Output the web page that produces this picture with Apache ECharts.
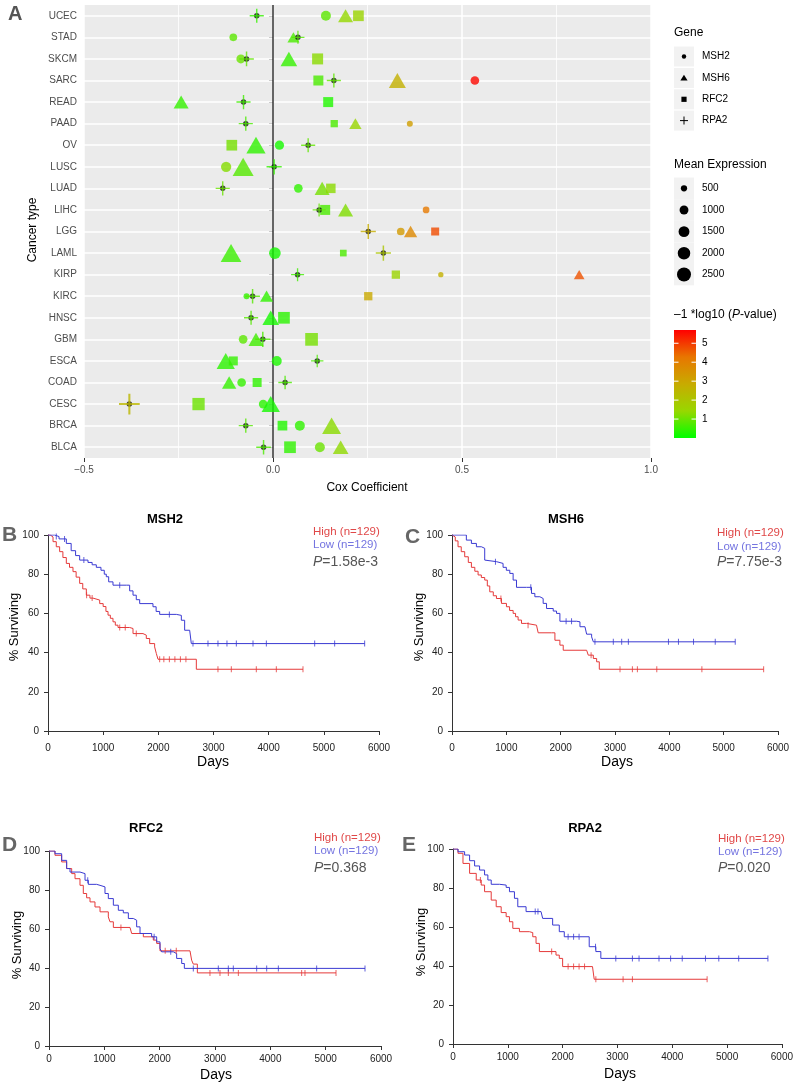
<!DOCTYPE html>
<html><head><meta charset="utf-8">
<script src="https://cdn.jsdelivr.net/npm/echarts@6.0.0/dist/echarts.min.js"></script>
<style>html,body{margin:0;padding:0;background:#fff;}#main{width:796px;height:1084px;}</style>
</head><body><div id="main"></div>
<script>
// ---------------- Panel A data ----------------
const cancers = ['UCEC','STAD','SKCM','SARC','READ','PAAD','OV','LUSC','LUAD','LIHC','LGG','LAML','KIRP','KIRC','HNSC','GBM','ESCA','COAD','CESC','BRCA','BLCA'];
const msh2Coef = [0.140,-0.105,-0.085,0.534,null,0.362,0.017,-0.124,0.067,0.405,0.338,0.005,0.444,-0.070,null,-0.079,0.010,-0.083,-0.026,0.071,0.124];
const msh2Expr = [1275,760,1030,960,null,460,1100,1350,960,570,760,1750,360,460,null,960,1275,960,960,1275,1275];
const msh2LogP = [0.85,0.85,1.0,5.6,null,3.2,0.2,1.25,0.45,4.2,3.3,0.2,2.7,0.45,null,0.85,0.25,0.5,0.4,0.45,1.0];
const msh6Coef = [0.192,0.054,0.042,0.329,-0.243,0.218,-0.045,-0.079,0.130,0.192,0.364,-0.111,0.810,-0.017,-0.006,-0.045,-0.125,-0.116,-0.006,0.155,0.179];
const msh6Expr = [1365,874,1692,1753,1365,918,2260,2675,1365,1365,1073,2600,695,1025,1692,1365,2032,1240,2032,2190,1495];
const msh6LogP = [1.4,0.7,0.5,2.7,0.5,1.45,0.45,0.8,1.1,1.2,3.8,0.55,4.7,0.45,0.2,0.6,0.4,0.5,0.2,1.3,1.35];
const rfc2Coef = [0.226,null,0.118,0.120,0.146,0.162,-0.109,null,0.153,0.138,0.429,0.186,0.325,0.252,0.029,0.102,-0.105,-0.042,-0.197,0.025,0.045];
const rfc2Expr = [1618,null,1710,1413,1413,753,1618,null,1275,1413,904,634,974,974,1935,2280,1145,1145,2138,1330,1935];
const rfc2LogP = [1.5,null,1.3,0.7,0.3,0.7,1.1,null,1.3,0.7,4.8,0.7,1.5,2.9,0.4,1.1,0.5,0.45,1.0,0.3,0.45];
const rpa2Coef = [-0.043,0.066,-0.070,0.161,-0.078,-0.072,0.093,0.003,-0.133,0.122,0.252,0.292,0.065,-0.054,-0.058,-0.027,0.117,0.032,-0.380,-0.072,-0.025];
const rpa2Expr = [1300,1100,1400,1300,1300,1300,1300,1500,1300,1100,1500,1500,1100,1400,1300,1500,1000,1200,2800,1300,1400];
const rpa2LogP = [0.5,0.8,0.9,0.9,0.6,0.7,0.9,0.5,1.0,0.9,2.8,2.0,0.6,0.8,0.8,0.7,0.7,0.7,2.5,0.8,0.7];
const geneNames = ['MSH2','MSH6','RFC2','RPA2'];
const sizeBreaks = [500,1000,1500,2000,2500];
const colorBreaks = [1,2,3,4,5];
const logPMin = 0, logPMax = 5.7;

// ---------------- Kaplan-Meier data (days, % surviving) ----------------
const msh2High = [[0,100],[40,99],[91,96.6],[150,94],[211,91.5],[270,88.5],[332,85.5],[390,83.5],[453,81.3],[510,78.5],[574,75.3],[630,72.5],[695,69.3],[760,67.8],[816,66.8],[937,65],[1000,63.5],[1050,61],[1088,59.1],[1130,57.5],[1178,55.7],[1220,54],[1269,52.8],[1480,52.3],[1541,49.7],[1722,48.9],[1782,47.2],[1843,44.6],[1933,42.9],[1964,39.5],[1994,36.6],[2689,31.5],[4622,31.5]];
const msh2Low = [[0,100],[120,99.2],[200,98],[332,95.7],[420,92],[500,89.5],[574,87.2],[725,86],[800,84.8],[876,83.5],[960,82],[1020,80],[1057,78.7],[1100,76.1],[1178,74.4],[1420,74.4],[1480,71.5],[1541,69.3],[1600,67],[1662,65],[1903,63.4],[1960,61],[2024,59.5],[2326,59],[2417,56.5],[2477,51.4],[2568,50.6],[2598,44.6],[5740,44.6]];
const msh6High = [[0,100],[18,99],[60,97],[111,94],[170,91.5],[234,88.9],[300,86],[357,83.5],[420,81.5],[480,79.6],[540,78.3],[602,77],[650,74],[695,71],[760,69],[818,67.6],[910,65.1],[1002,63.4],[1060,61.5],[1125,60],[1170,58.3],[1217,56.6],[1279,54.9],[1371,54],[1555,53.2],[1586,50.1],[1832,50.1],[1894,46.3],[1986,43.8],[2047,41.2],[2478,41.2],[2508,38.7],[2601,37],[2662,35.3],[2711,31.5],[5736,31.5]];
const msh6Low = [[0,100],[203,100],[264,97.4],[357,95.7],[449,94],[541,93.2],[602,87.2],[633,86.4],[818,85.5],[940,83.5],[1000,82],[1064,80.4],[1125,77],[1187,73.3],[1371,73.3],[1463,70.2],[1525,68.5],[1617,67.6],[1678,65.1],[1740,62.5],[1863,61.2],[1924,60],[1986,56],[2293,55.7],[2355,53.2],[2447,52.3],[2478,49.4],[2570,48],[2601,45.5],[5213,45.5]];
const rfc2High = [[0,100],[108,97.8],[229,94.4],[319,91],[410,88.4],[470,85.8],[560,82.4],[620,78.2],[680,76],[741,73.9],[831,71.3],[922,68.8],[1072,66.2],[1102,63.7],[1163,60.8],[1464,60.8],[1494,57.7],[1705,56],[1885,54.3],[1946,52.6],[2006,48.8],[2548,48.8],[2578,44],[2608,42],[2681,37.5],[5187,37.5]];
const rfc2Low = [[0,100],[108,98.6],[229,95.2],[319,91],[380,89.2],[560,88.4],[651,85],[711,82.9],[861,82.4],[922,81.6],[1012,78.2],[1072,75.6],[1163,72.2],[1253,69.6],[1343,68.3],[1434,65.4],[1524,64.5],[1584,61.1],[1645,57.7],[1855,56],[1946,53.4],[2006,50],[2036,48.3],[2247,47.4],[2307,44.9],[2398,42.3],[2446,39.8],[5711,39.8]];
const rpa2High = [[0,100],[91,97.8],[182,92.6],[303,87.5],[424,84.1],[515,81.5],[576,78.1],[697,73.8],[788,70.4],[879,67.4],[970,65.3],[1030,62.7],[1091,59.3],[1212,57.6],[1394,57.1],[1455,55],[1515,51.6],[1576,47.4],[1879,45.6],[1939,43.9],[2000,39.7],[2545,39.7],[2576,33.2],[4636,33.2]];
const rpa2Low = [[0,100],[91,98.6],[212,96.9],[303,94],[394,91.3],[485,89.2],[576,86.7],[636,84.1],[697,81.9],[848,81.5],[970,80.3],[1030,78.1],[1121,74.7],[1182,70.4],[1333,67.9],[1606,67],[1636,64.4],[1818,61],[1939,57.6],[2030,55],[2303,55],[2485,49.9],[2606,47.4],[2697,43.9],[5745,43.9]];
// censored days
const msh2HighCens = [700,800,1300,1400,1600,2024,2100,2200,2300,2400,2500,3081,3323,3776,4139,4622];
const msh2LowCens = [150,300,650,1300,2200,2628,2900,3081,3244,3414,3716,3958,4834,5196,5740];
const msh6HighCens = [900,1400,2560,3092,3320,3412,3769,4599,5736];
const msh6LowCens = [800,1450,2100,2200,2631,2969,3123,3246,3984,4168,4445,4845,5213];
const rfc2HighCens = [1300,2100,2300,2909,3090,3241,3422,4566,4626,5187];
const rfc2LowCens = [700,1900,2200,2608,3060,3241,3331,3753,3934,4145,4837,5711];
const rpa2HighCens = [500,1800,2100,2200,2300,2400,2606,3103,3273,4636];
const rpa2LowCens = [1500,1550,2100,2200,2300,2600,2970,3273,3394,3758,3970,4182,4606,4849,5212,5745];
const kmPanels = [
  {gene:'MSH2', high:msh2High, low:msh2Low, hc:msh2HighCens, lc:msh2LowCens, p:'1.58e-3'},
  {gene:'MSH6', high:msh6High, low:msh6Low, hc:msh6HighCens, lc:msh6LowCens, p:'7.75e-3'},
  {gene:'RFC2', high:rfc2High, low:rfc2Low, hc:rfc2HighCens, lc:rfc2LowCens, p:'0.368'},
  {gene:'RPA2', high:rpa2High, low:rpa2Low, hc:rpa2HighCens, lc:rpa2LowCens, p:'0.020'}
];
const groupN = 129;

// ---------------- helpers ----------------
const FONT = 'Liberation Sans, Arial, Helvetica, sans-serif';
const colorStops = ['#00FF00','#98D700','#C8AB00','#E87600','#FF0000'];
const sizeScale = e => 0.28 * Math.sqrt(e);
function pts(coef, expr, lp){
  const out = [];
  cancers.forEach((c,i)=>{ if(coef[i]!=null) out.push([coef[i], c, expr[i], lp[i]]); });
  return out;
}
function survAt(curve, t){ let s = curve[0][1]; for(const p of curve){ if(p[0] <= t) s = p[1]; else break; } return s; }

// ---------------- layout ----------------
const gridA = {left:84, top:5, width:567, height:453};
const kmGrids = [
  {left:48, top:535, width:331, height:196, xOff:6, yOff:3},
  {left:452, top:535, width:326, height:196, xOff:6, yOff:3},
  {left:49, top:851, width:332, height:195, xOff:2, yOff:3},
  {left:453, top:849, width:330, height:195, xOff:2, yOff:3}
];
const kmText = [
  {title:[165,519], leg:[313,531.7,545,561.7], letter:['B',2,535], ylab:[14,627], days:[213,762]},
  {title:[566,519], leg:[717,533,546.7,561.7], letter:['C',405,537], ylab:[419,627], days:[617,762]},
  {title:[146,828], leg:[314,837.7,851,868.3], letter:['D',2,845], ylab:[17,945], days:[216,1075]},
  {title:[585,828], leg:[718,839.3,852.3,868.3], letter:['E',402,845], ylab:[421,942], days:[620,1074]}
];

const grids = [Object.assign({show:true, backgroundColor:'#EBEBEB', borderWidth:0}, gridA)];
const xAxes = [{
  type:'value', gridIndex:0, min:-0.5, max:1.0, interval:0.5,
  axisLine:{show:false}, axisTick:{show:true, length:4, lineStyle:{color:'#333', width:1}},
  axisLabel:{color:'#4D4D4D', fontSize:10, fontFamily:FONT, margin:7,
    formatter:v => (v<0?'\u22120':'') + (v<0? Math.abs(v).toFixed(1).slice(1) : v.toFixed(1))},
  splitLine:{show:true, lineStyle:{color:'#FFFFFF', width:1.5}},
  minorTick:{show:false, splitNumber:2},
  minorSplitLine:{show:true, lineStyle:{color:'#FFFFFF', width:0.8}}
}];
const yAxes = [{
  type:'category', gridIndex:0, data:cancers, inverse:true, boundaryGap:true,
  axisLine:{show:false}, axisTick:{show:true, alignWithLabel:true, length:4, lineStyle:{color:'#333'}},
  axisLabel:{color:'#4D4D4D', fontSize:10, fontFamily:FONT, margin:7},
  splitLine:{show:false}
}];
kmGrids.forEach((gd,k)=>{
  grids.push({left:gd.left, top:gd.top, width:gd.width, height:gd.height, show:false});
  xAxes.push({type:'value', gridIndex:k+1, min:0, max:6000, interval:1000, offset:gd.xOff,
    axisLine:{show:true, lineStyle:{color:'#333', width:1}},
    axisTick:{show:true, length:4, lineStyle:{color:'#333'}},
    axisLabel:{color:'#222', fontSize:10, fontFamily:FONT, margin:6, formatter: v => String(v)},
    splitLine:{show:false}});
  yAxes.push({type:'value', gridIndex:k+1, min:0, max:100, interval:20, offset:gd.yOff,
    axisLine:{show:true, lineStyle:{color:'#333', width:1}},
    axisTick:{show:true, length:4, lineStyle:{color:'#333'}},
    axisLabel:{color:'#222', fontSize:10, fontFamily:FONT, margin:6, formatter: v => String(v)},
    splitLine:{show:false}});
});

const crossPath = 'path://M9,0h2v20h-2zM0,9h20v2h-20z';
const series = [
  {name:'MSH2', type:'scatter', xAxisIndex:0, yAxisIndex:0, symbol:'circle', z:3,
   symbolSize: v => sizeScale(v[2]), data: pts(msh2Coef, msh2Expr, msh2LogP),
   markLine:{silent:true, symbol:['none','none'], z:1, label:{show:false}, animation:false,
     data: cancers.map(c => ({yAxis:c, lineStyle:{color:'#FFFFFF', width:1.5, type:'solid'}}))
       .concat([{xAxis:0, lineStyle:{color:'#333333', width:1.5, type:'solid'}}])}},
  {name:'MSH6', type:'scatter', xAxisIndex:0, yAxisIndex:0, symbol:'triangle', z:3,
   symbolSize: v => { const w = sizeScale(v[2])*1.45; return [w, w*0.87]; }, data: pts(msh6Coef, msh6Expr, msh6LogP)},
  {name:'RFC2', type:'scatter', xAxisIndex:0, yAxisIndex:0, symbol:'rect', z:3,
   symbolSize: v => sizeScale(v[2])*0.95, data: pts(rfc2Coef, rfc2Expr, rfc2LogP)},
  {name:'RPA2dot', type:'scatter', xAxisIndex:0, yAxisIndex:0, symbol:'circle', z:3,
   symbolSize: 5.5, itemStyle:{color:'#111'}, data: pts(rpa2Coef, rpa2Expr, rpa2LogP)},
  {name:'RPA2', type:'scatter', xAxisIndex:0, yAxisIndex:0, symbol:crossPath, z:4,
   symbolSize: v => sizeScale(v[2])*1.4, data: pts(rpa2Coef, rpa2Expr, rpa2LogP)}
];
const RED = '#E53A3A', BLUE = '#3A3AD2';
kmPanels.forEach((p,k)=>{
  const xi = k+1;
  [[p.high, p.hc, RED], [p.low, p.lc, BLUE]].forEach(([curve, cens, col])=>{
    series.push({type:'line', xAxisIndex:xi, yAxisIndex:xi, data:curve, step:'end', showSymbol:false,
      symbol:'none', lineStyle:{color:col, width:1}, itemStyle:{color:col}, z:2, silent:true});
    series.push({type:'scatter', xAxisIndex:xi, yAxisIndex:xi, symbol:'rect', symbolSize:[1,6],
      itemStyle:{color:col, opacity:0.8}, data: cens.map(t => [t, survAt(curve, t)]), z:2, silent:true});
  });
});

// ---------------- graphic texts & legends ----------------
const g = [];
function txt(x, y, text, o = {}){
  const st = {text, x:0, y:0, fontSize:o.size||10, fontFamily:FONT, fontWeight:o.weight||'normal',
    fill:o.color||'#000', align:o.align||'left', verticalAlign:'middle'};
  if(o.rich) st.rich = o.rich;
  g.push({type:'text', x, y, rotation:o.rot||0, silent:true, z:100, style:st});
}
// Panel A texts
txt(8, 14, 'A', {size:20, weight:'bold', color:'#555'});
txt(367, 488, 'Cox Coefficient', {size:12, align:'center'});
txt(33, 230, 'Cancer type', {size:12, align:'center', rot:Math.PI/2});
// Gene legend
const lx = 674;
txt(lx, 33, 'Gene', {size:12});
const geneY = [56.5, 78, 99.3, 120.6];
geneNames.forEach((n,i)=>{
  const cy = geneY[i];
  g.push({type:'rect', shape:{x:lx, y:cy-10, width:20, height:20}, style:{fill:'#F2F2F2'}, silent:true, z:90});
  const cx = lx+10;
  if(i===0) g.push({type:'circle', shape:{cx, cy, r:2.2}, style:{fill:'#000'}, silent:true, z:91});
  if(i===1) g.push({type:'polygon', shape:{points:[[cx,cy-3.3],[cx+3.6,cy+2.6],[cx-3.6,cy+2.6]]}, style:{fill:'#000'}, silent:true, z:91});
  if(i===2) g.push({type:'rect', shape:{x:cx-2.6, y:cy-2.6, width:5.2, height:5.2}, style:{fill:'#000'}, silent:true, z:91});
  if(i===3){
    g.push({type:'rect', shape:{x:cx-4, y:cy-0.5, width:8, height:1}, style:{fill:'#000'}, silent:true, z:91});
    g.push({type:'rect', shape:{x:cx-0.5, y:cy-4, width:1, height:8}, style:{fill:'#000'}, silent:true, z:91});
  }
  txt(702, cy, n, {size:10});
});
// Size legend
txt(lx, 165, 'Mean Expression', {size:12});
const sizeY = [188.3, 210, 231.7, 253.3, 274.5];
sizeBreaks.forEach((b,i)=>{
  const cy = sizeY[i];
  g.push({type:'rect', shape:{x:lx, y:cy-10.8, width:20, height:21.6}, style:{fill:'#F2F2F2'}, silent:true, z:90});
  g.push({type:'circle', shape:{cx:lx+10, cy, r:sizeScale(b)/2}, style:{fill:'#000'}, silent:true, z:91});
  txt(702, cy, String(b), {size:10});
});
// Color legend
txt(lx, 315, '\u20131 *log10 ({i|P}-value)', {size:12,
  rich:{i:{fontStyle:'italic', fontSize:12, fontFamily:FONT, fill:'#000'}}});
const barTop = 330, barH = 108, barW = 22;
g.push({type:'rect', shape:{x:lx, y:barTop, width:barW, height:barH}, silent:true, z:90,
  style:{fill:new echarts.graphic.LinearGradient(0,1,0,0, colorStops.map((c,i)=>({offset:i/(colorStops.length-1), color:c})))}});
colorBreaks.forEach(b=>{
  const y = barTop + barH - (b-logPMin)/(logPMax-logPMin)*barH;
  g.push({type:'line', shape:{x1:lx, y1:y, x2:lx+4.5, y2:y}, style:{stroke:'#fff', lineWidth:1}, silent:true, z:91});
  g.push({type:'line', shape:{x1:lx+barW-4.5, y1:y, x2:lx+barW, y2:y}, style:{stroke:'#fff', lineWidth:1}, silent:true, z:91});
  txt(702, y, String(b), {size:10});
});
// KM texts
kmPanels.forEach((p,k)=>{
  const t = kmText[k];
  txt(t.title[0], t.title[1], p.gene, {size:13, weight:'bold', align:'center'});
  txt(t.leg[0], t.leg[1], 'High (n=' + groupN + ')', {size:11.5, color:'#E04848'});
  txt(t.leg[0], t.leg[2], 'Low (n=' + groupN + ')', {size:11.5, color:'#7474E0'});
  txt(t.leg[0], t.leg[3], '{i|P}=' + p.p, {size:14, color:'#555',
    rich:{i:{fontStyle:'italic', fontSize:14, fontFamily:FONT, fill:'#555'}}});
  txt(t.letter[1], t.letter[2], t.letter[0], {size:21, weight:'bold', color:'#666'});
  txt(t.ylab[0], t.ylab[1], '% Surviving', {size:13, align:'center', rot:Math.PI/2});
  txt(t.days[0], t.days[1], 'Days', {size:14, align:'center'});
});

const chart = echarts.init(document.getElementById('main'), null, {renderer:'canvas'});
chart.setOption({
  animation:false,
  backgroundColor:'#fff',
  grid: grids, xAxis: xAxes, yAxis: yAxes,
  visualMap:[{type:'continuous', show:false, min:logPMin, max:logPMax, dimension:3, seriesIndex:[0,1,2,4],
    inRange:{color:colorStops}}],
  series: series,
  graphic: g
});
</script></body></html>
